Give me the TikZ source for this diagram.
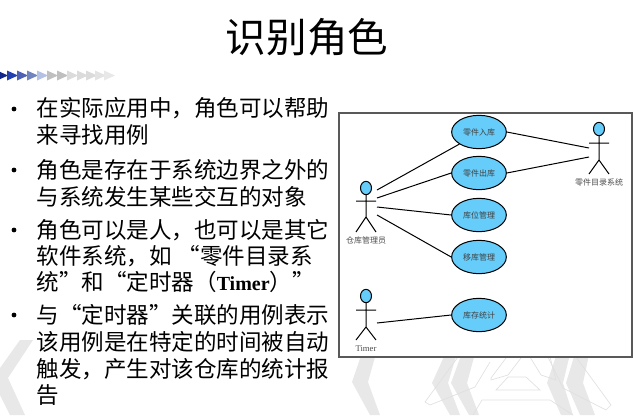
\documentclass[tikz,border=0pt]{standalone}
\usepackage{fontspec}
\setmainfont{Liberation Serif}
\newfontfamily\cjk[RawFeature=+fwid]{Noto Sans CJK SC}
\usetikzlibrary{shapes.geometric}
\definecolor{myusecase}{RGB}{102, 204, 250}
\definecolor{mychevron}{RGB}{232, 232, 232}
\definecolor{myarrowa}{RGB}{18, 38, 138}
\definecolor{myarrowb}{RGB}{35, 64, 176}
\definecolor{myarrowc}{RGB}{77, 98, 181}
\definecolor{myarrowd}{RGB}{113, 132, 189}
\definecolor{myarrowe}{RGB}{180, 192, 228}
\tikzset{every picture/.style={line width=0.75pt}}
\tikzset{
  bodyline/.style={anchor=west,inner sep=0pt,font=\cjk\fontsize{16.9}{20}\selectfont},
  bulletdot/.style={circle,fill=black,inner sep=0pt,minimum size=3.6pt},
  usecase/.style={ellipse,draw,fill=myusecase,inner sep=0pt,minimum width=41pt,minimum height=25pt,font=\cjk\fontsize{6}{7}\selectfont,text=black!75},
  actorhead/.style={ellipse,draw,fill=myusecase,inner sep=0pt,minimum width=8.25pt,minimum height=10pt},
  actorname/.style={inner sep=0pt,font=\cjk\fontsize{6}{7}\selectfont,text=black!70},
  chevron/.style={fill=mychevron,draw=none},
  faintline/.style={draw=black!12,line width=0.5pt}
}

\begin{document}
\begin{tikzpicture}[x=0.75pt,y=0.75pt,yscale=-1,xscale=1]
\useasboundingbox (0,0) rectangle (633,415);

%Background chevrons
\path [chevron] (20,340) -- (33,340) -- (8,378) -- (25,415) -- (10,415) -- (0,395) -- (0,368) -- cycle ;
\path [chevron] (363,350) -- (377,350) -- (368,382) -- (380,415) -- (370,415) -- (352,382) -- cycle ;
\path [chevron] (447,350) -- (458,350) -- (448,383) -- (460,415) -- (450,415) -- (432,383) -- cycle ;
\path [chevron] (463,350) -- (476,350) -- (467,383) -- (479,415) -- (469,415) -- (451,383) -- cycle ;
\path [chevron] (558,350) -- (571,350) -- (563,383) -- (573,415) -- (561,415) -- (547,383) -- cycle ;
\path [chevron] (576,350) -- (590,350) -- (583,383) -- (595,415) -- (580,415) -- (566,383) -- cycle ;
%Background outlines
\draw [faintline] (458,357) -- (425,402) -- (430,405) -- (475,387) -- (490,362) ;
\draw [faintline] (491,378) -- (506,358) ;
\draw [faintline] (491,378) -- (491,380) -- (508,375) -- (521,358) ;
\draw [faintline] (496,390) -- (540,390) -- (526,377) -- (508,377) -- cycle ;
\draw [faintline] (530,357) -- (541,375) -- (556,380) -- (550,357) ;
\draw [faintline] (473,415) -- (482,400) -- (550,400) -- (573,415) ;
\draw [faintline] (548,357) -- (563,388) -- (606,410) -- (611,405) -- (576,357) ;

%Title
\node [inner sep=0pt,font=\cjk\fontsize{30.4}{34}\selectfont] (title) at (307,37) {识别角色};

%Row of arrow heads
\fill [myarrowa] (-3,70.5) -- (8,75.5) -- (-3,80.5) -- cycle ;
\fill [myarrowb] (7,70.5) -- (18,75.5) -- (7,80.5) -- cycle ;
\fill [myarrowc] (17,70.5) -- (28,75.5) -- (17,80.5) -- cycle ;
\fill [myarrowd] (27,70.5) -- (38,75.5) -- (27,80.5) -- cycle ;
\fill [myarrowe] (37,70.5) -- (48,75.5) -- (37,80.5) -- cycle ;
\fill [black!25] (47,70.5) -- (58,75.5) -- (47,80.5) -- cycle ;
\fill [black!25] (57,70.5) -- (68,75.5) -- (57,80.5) -- cycle ;
\fill [black!14] (67,70.5) -- (78,75.5) -- (67,80.5) -- cycle ;
\fill [black!14] (77,70.5) -- (88,75.5) -- (77,80.5) -- cycle ;
\fill [black!14] (86,70.5) -- (97,75.5) -- (86,80.5) -- cycle ;
\fill [black!11] (95,70.5) -- (106,75.5) -- (95,80.5) -- cycle ;
\fill [black!9] (104,70.5) -- (115,75.5) -- (104,80.5) -- cycle ;

%Bullets and text
\node [bulletdot] (dota) at (14,109) {};
\node [bodyline] (linea) at (36,108) {在实际应用中，角色可以帮助};
\node [bodyline] (lineb) at (36,135) {来寻找用例};
\node [bulletdot] (dotb) at (14,170) {};
\node [bodyline] (linec) at (36,170) {角色是存在于系统边界之外的};
\node [bodyline] (lined) at (36,197) {与系统发生某些交互的对象};
\node [bulletdot] (dotc) at (14,230) {};
\node [bodyline] (linee) at (36,230) {角色可以是人，也可以是其它};
\node [bodyline] (linef) at (36,256) {软件系统，如\hspace{4.5pt}“零件目录系};
\node [bodyline] (lineg) at (36,282) {统”和“定时器（\textbf{\rmfamily\fontsize{15}{18}\selectfont Timer}）”};
\node [bulletdot] (dotd) at (14,315) {};
\node [bodyline] (lineh) at (36,315) {与“定时器”关联的用例表示};
\node [bodyline] (linei) at (36,342) {该用例是在特定的时间被自动};
\node [bodyline] (linej) at (36,369) {触发，产生对该仓库的统计报};
\node [bodyline] (linek) at (36,395) {告};

%Diagram frame
\draw [draw=black!65,fill=white,line width=1pt] (339,113) rectangle (632,357) ;

%Use cases
\node [usecase] (ruku) at (479,132) {零件入库};
\node [usecase] (chuku) at (479,173) {零件出库};
\node [usecase] (kuwei) at (479,215) {库位管理};
\node [usecase] (yiku) at (479,257) {移库管理};
\node [usecase] (tongji) at (479,315) {库存统计};

%Actor: warehouse keeper
\node [actorhead] (keeper) at (366,188) {};
\draw (keeper.south) -- (366,217) -- (356,232) (366,217) -- (376,232) (356,201) -- (376,201) ;
\node [actorname] (keepername) at (366,240) {仓库管理员};
%Actor: parts catalogue
\node [actorhead] (catalog) at (599,129) {};
\draw (catalog.south) -- (599,160) -- (589,174) (599,160) -- (609,174) (589,143) -- (609,143) ;
\node [actorname] (catalogname) at (599,182) {零件目录系统};
%Actor: timer
\node [actorhead] (timer) at (366,296) {};
\draw (timer.south) -- (366,327) -- (356,340) (366,327) -- (376,340) (356,310) -- (376,310) ;
\node [actorname,font=\rmfamily\fontsize{6.5}{7}\selectfont] (timername) at (366,349) {Timer};

%Free ends of the connectors
\coordinate (keepera) at (377,190);
\coordinate (keeperb) at (377,198);
\coordinate (keeperc) at (377,207);
\coordinate (keeperd) at (377,215);
\coordinate (catalogp) at (589,148);
\coordinate (catalogq) at (589,157);
\coordinate (timera) at (377,323);

%Connectors
\draw (keepera) -- (ruku.south west) ;
\draw (keeperb) -- (chuku.west) ;
\draw (keeperc) -- (kuwei.west) ;
\draw (keeperd) -- (yiku.west) ;
\draw (ruku.east) -- (catalogp) ;
\draw (chuku.east) -- (catalogq) ;
\draw (timera) -- (tongji.west) ;

\end{tikzpicture}
\end{document}
